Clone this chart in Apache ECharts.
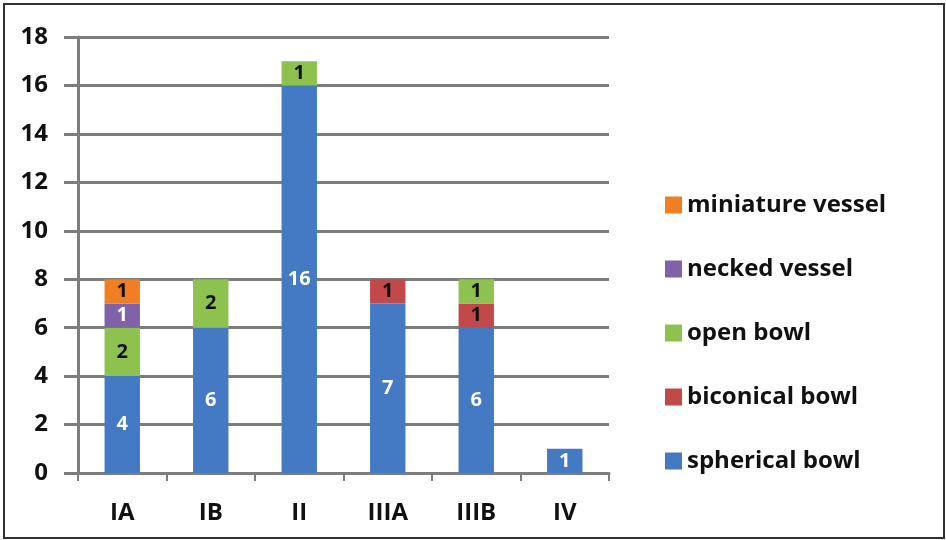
<!DOCTYPE html>
<html>
<head>
<meta charset="utf-8">
<script src="https://cdn.jsdelivr.net/npm/echarts@6/dist/echarts.min.js"></script>
<style>
	html, body { margin: 0; padding: 0; background: #fff; }
	#frame { position: absolute; left: 3px; top: 3px; width: 938px; height: 532px; border: 2px solid #333; }
	#chart { position: absolute; left: 0; top: 0; width: 946px; height: 540px; }
</style>
</head>
<body>
<div id="frame"></div>
<div id="chart"></div>
<script>
var categories = ['IA', 'IB', 'II', 'IIIA', 'IIIB', 'IV'];
var sphericalBowl = [4, 6, 16, 7, 6, 1];
var biconicalBowl = [null, null, null, 1, 1, null];
var openBowl = [2, 2, 1, null, 1, null];
var neckedVessel = [1, null, null, null, null, null];
var miniatureVessel = [1, null, null, null, null, null];
var yTicks = { min: 0, max: 18, step: 2 };

(function() {
	var font = '"Open Sans", sans-serif';
	var gridColor = '#7d7d7d';

	function barSeries(name, data, color, labelColor) {
		return {
			name: name,
			type: 'bar',
			stack: 'total',
			barWidth: '40%',
			data: data,
			itemStyle: { color: color },
			label: {
				show: true,
				position: 'inside',
				color: labelColor,
				fontFamily: font,
				fontWeight: 'bold',
				fontSize: 20
			}
		};
	}

	var chart = echarts.init(document.getElementById('chart'));
	chart.setOption({
		animation: false,
		grid: { left: 78, right: 337, top: 37, bottom: 67 },
		legend: {
			orient: 'vertical',
			left: 660,
			top: 188,
			itemWidth: 17,
			itemHeight: 17,
			itemGap: 40,
			itemStyle: { borderWidth: 0 },
			icon: 'rect',
			data: ['miniature vessel', 'necked vessel', 'open bowl', 'biconical bowl', 'spherical bowl'],
			textStyle: { fontFamily: font, fontWeight: 'bold', fontSize: 24, color: '#111' }
		},
		xAxis: {
			type: 'category',
			data: categories,
			axisLine: { lineStyle: { color: gridColor, width: 3 } },
			axisTick: { show: true, length: 8, lineStyle: { color: gridColor, width: 2 } },
			axisLabel: { margin: 28, color: '#111', fontFamily: font, fontWeight: 'bold', fontSize: 24 }
		},
		yAxis: {
			type: 'value',
			min: yTicks.min,
			max: yTicks.max,
			interval: yTicks.step,
			axisLine: { show: true, lineStyle: { color: gridColor, width: 3 } },
			axisTick: { show: true, length: 14, lineStyle: { color: gridColor, width: 3 } },
			splitLine: { lineStyle: { color: gridColor, width: 3 } },
			axisLabel: { margin: 30, color: '#111', fontFamily: font, fontWeight: 'bold', fontSize: 24 }
		},
		series: [
			barSeries('spherical bowl', sphericalBowl, '#4479c4', '#fff'),
			barSeries('biconical bowl', biconicalBowl, '#c2494a', '#111'),
			barSeries('open bowl', openBowl, '#8dc24f', '#111'),
			barSeries('necked vessel', neckedVessel, '#7f62a8', '#fff'),
			barSeries('miniature vessel', miniatureVessel, '#ef7f22', '#111')
		]
	});
})();
</script>
</body>
</html>
